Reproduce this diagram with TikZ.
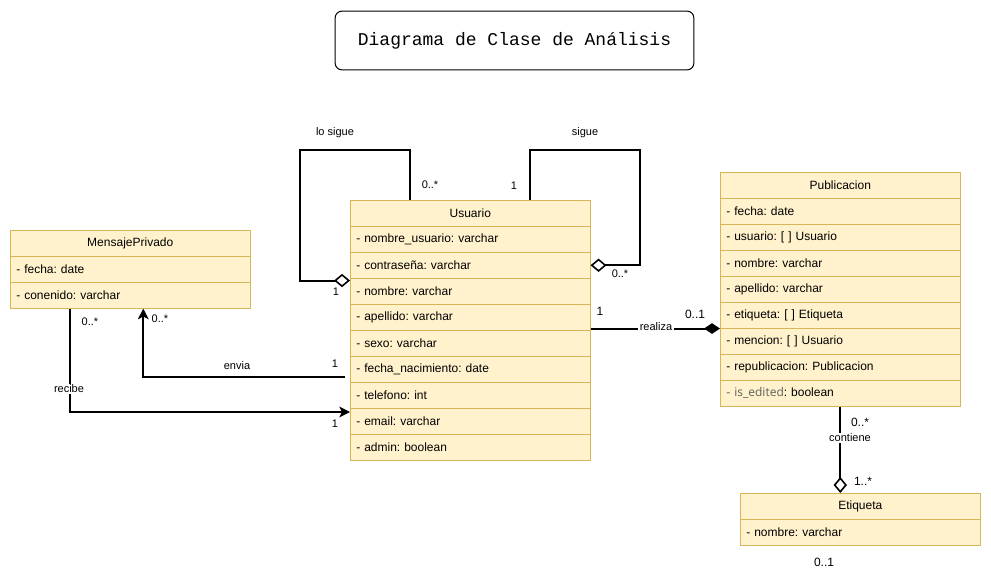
\documentclass[tikz,border=0pt]{standalone}
\usepackage{fontspec}
\setmainfont{Liberation Sans}
\newfontfamily\titlefont{Liberation Mono}
\newfontfamily\editfont{Open Sans}
\usetikzlibrary{arrows.meta,positioning,calc}
\definecolor{umlfill}{RGB}{255,242,204}
\definecolor{umlborder}{RGB}{214,182,86}
\definecolor{umlgrey}{RGB}{95,95,95}
\frenchspacing

\begin{document}
\begin{tikzpicture}[
    x=0.75pt, y=-0.75pt,
    classhead/.style={rectangle, draw=umlborder, fill=umlfill, anchor=north west,
                minimum width=180pt, minimum height=19.5pt, inner sep=0pt,
                font=\fontsize{9}{11}\selectfont},
    attr/.style={classhead, text width=171pt, inner xsep=4.5pt, align=left},
    titlebox/.style={rectangle, draw, rounded corners=5pt, line width=0.75pt,
                minimum width=269pt, minimum height=44pt,
                font=\titlefont\fontsize{13.5}{16}\selectfont},
    assoc/.style={line width=1.5pt},
    aggr/.style={assoc, -{Diamond[length=12pt,width=10pt,fill=white,line width=1.2pt]}},
    compo/.style={assoc, -{Diamond[length=12pt,width=8pt]}},
    arr/.style={assoc, -{Stealth[length=8pt,width=8pt,inset=2pt]}},
    mult/.style={font=\fontsize{8.25}{10}\selectfont, inner sep=1pt},
    multbig/.style={font=\fontsize{9}{11}\selectfont, inner sep=1pt},
    role/.style={mult, fill=white},
  ]
  \useasboundingbox (0,0) rectangle (991,583);

  % Titulo
  \node[titlebox] (title) at (514.5,40.5) {Diagrama de Clase de Análisis};

  % Usuario
  \node[classhead] (usuario) at (350,200) {Usuario};
  \foreach \t [count=\i] in {- nombre\_usuario: varchar, - contraseña: varchar,
      - nombre: varchar, - apellido: varchar, - sexo: varchar,
      - fecha\_nacimiento: date, - telefono: int, - email: varchar,
      - admin: boolean}
    \node[attr] (usr\i) at (350,{200+26*\i}) {\t};

  % MensajePrivado
  \node[classhead] (mensaje) at (10,230) {MensajePrivado};
  \foreach \t [count=\i] in {- fecha: date, - conenido: varchar}
    \node[attr] (msg\i) at (10,{230+26*\i}) {\t};

  % Publicacion
  \node[classhead] (publicacion) at (720,172) {Publicacion};
  \foreach \t [count=\i] in {- fecha: date, - usuario: [ ] Usuario,
      - nombre: varchar, - apellido: varchar, - etiqueta: [ ] Etiqueta,
      - mencion: [ ] Usuario, - republicacion: Publicacion,
      {{\color{umlgrey}- \editfont is\_edited}: boolean}}
    \node[attr] (pub\i) at (720,{172+26*\i}) {\t};

  % Etiqueta
  \node[classhead] (etiqueta) at (740,493) {Etiqueta};
  \node[attr] (etq1) at (740,519) {- nombre: varchar};

  % Esquinas de las relaciones reflexivas
  \coordinate (losigueTL) at (300,150);
  \coordinate (sigueTR) at (640,150);
  \coordinate (enviaStart) at (345,377);

  % lo sigue
  \draw[aggr] ($(usuario.north west)+(60,0)$) |- (losigueTL)
    |- ($(usr2.south west)+(0,2)$);
  \node[mult] (losigue) at (335,133) {lo sigue};
  \node[mult] (losigueM) at (430,185) {0..*};
  \node[mult] (losigueO) at (336,292) {1};

  % sigue
  \draw[aggr] ($(usuario.north west)+(180,0)$) |- (sigueTR) |- (usr2.east);
  \node[mult] (sigue) at (585,133) {sigue};
  \node[mult] (sigueO) at (514,186) {1};
  \node[mult] (sigueM) at (620,274) {0..*};

  % envia
  \draw[arr] (enviaStart) -| ($(msg2.south)+(13,0)$);
  \node[mult] (envia) at (237,366) {envia};
  \node[mult] (enviaM) at (160,319) {0..*};
  \node[mult] (enviaO) at (335,364) {1};

  % recibe
  \draw[arr] ($(msg2.south west)+(60,0)$) |- ($(usr8.north west)+(0,4)$);
  \node[role] (recibe) at (69,389) {recibe};
  \node[mult] (recibeM) at (90,322) {0..*};
  \node[mult] (recibeO) at (335,424) {1};

  % realiza
  \draw[compo] (pub5.south west -| usr4.east) -- (pub5.south west);
  \node[role] (realiza) at (656,327) {realiza};
  \node[multbig] (realizaO) at (600,311) {1};
  \node[multbig] (realizaM) at (695,314) {0..1};

  % contiene
  \draw[aggr] (pub8.south) -- (etiqueta.north -| pub8.south);
  \node[role] (contiene) at (850,438) {contiene};
  \node[multbig] (contieneM) at (860,422) {0..*};
  \node[multbig] (contieneN) at (863,481) {1..*};

  \node[multbig] (extra) at (824,562) {0..1};
\end{tikzpicture}
\end{document}
